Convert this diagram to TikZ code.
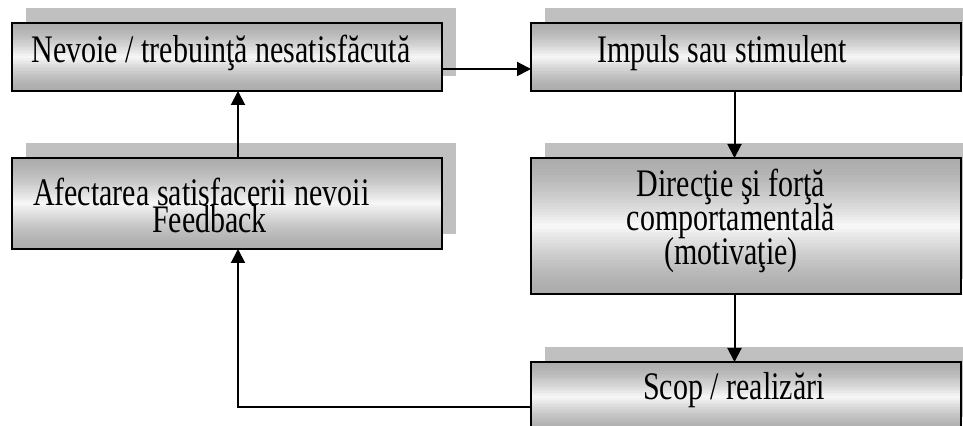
\documentclass[tikz,border=0pt]{standalone}
\usepackage{fontspec}
\setmainfont{Liberation Serif}
\usetikzlibrary{arrows.meta,backgrounds,calc}
\definecolor{shadowgray}{RGB}{192,192,192}
\definecolor{boxedge}{RGB}{172,172,172}
\definecolor{boxmid}{RGB}{248,248,248}
\newcommand{\vstr}[1]{\scalebox{1}[1.3]{#1}}
\newcommand{\tightlines}{\lineskiplimit=-50pt\relax}
\begin{document}
\begin{tikzpicture}[x=0.5pt,y=-0.5pt,
  box/.style={draw=black, line width=1.35pt, inner sep=0pt, outer sep=0pt,
    minimum width=215pt,
    path picture={
      \foreach \i in {0,...,47}{
        \pgfmathsetmacro{\pct}{100*(1-abs(2*(\i+0.5)/48-1))^1.5}
        \fill[boxmid!\pct!boxedge]
          ($(path picture bounding box.north west)!\i/48!(path picture bounding box.south west)$)
          rectangle
          ($(path picture bounding box.north east)!{(\i+1.4)/48}!(path picture bounding box.south east)$);
      }}},
  shadowbox/.style={fill=shadowgray, draw=none},
  txt/.style={inner sep=0pt, outer sep=0pt, font={\fontsize{15pt}{17pt}\selectfont\tightlines}},
  arr/.style={line width=1pt, -{Triangle[length=7pt,width=7pt]}}]
\useasboundingbox (0,0) rectangle (963,426);
% boxes
\node[box, minimum height=34pt] (B1) at (227,57) {};
\node[box, minimum height=34pt] (B2) at (746,57) {};
\node[box, minimum height=45.5pt] (B3) at (227,203.5) {};
\node[box, minimum height=68pt] (B4) at (746,226) {};
\node[box, minimum height=35pt] (B5) at (746,397) {};
% shadows
\begin{scope}[on background layer]
\foreach \b in {B1,B2,B3,B4,B5}
  \fill[shadowbox] ([shift={(7pt,7.5pt)}]\b.south west) rectangle ([shift={(7pt,7.5pt)}]\b.north east);
\end{scope}
% texts
\node[txt, anchor=base] (T1) at (221,63) {\vstr{Nevoie / trebuinţă nesatisfăcută}};
\node[txt, anchor=base] (T2) at (722,63) {\vstr{Impuls sau stimulent}};
\node[txt, anchor=base west, align=left, font={\fontsize{15pt}{13.8pt}\selectfont\tightlines}] (T3) at (33,233)
  {\vstr{Afectarea satisfacerii nevoii}\\\hspace*{59.5pt}\vstr{Feedback}};
\node[txt, anchor=base, align=center] (T4) at (731,265)
  {\vstr{Direcţie şi forţă}\\\vstr{comportamentală}\\\vstr{(motivaţie)}};
\node[txt, anchor=base] (T5) at (734,400) {\vstr{Scop / realizări}};
% connectors
\draw[arr] ([yshift=-6pt]B1.east) -- ([yshift=-6pt]B2.west);
\draw[arr] ([xshift=-5.75pt]B2.south) -- ([xshift=-5.75pt]B4.north);
\draw[arr] ([xshift=-5.75pt]B4.south) -- ([xshift=-5.75pt]B5.north);
\draw[arr] ([xshift=5.5pt]B3.north) -- ([xshift=5.5pt]B1.south);
\draw[arr] ([yshift=-5pt]B5.west) -| ([xshift=5.5pt]B3.south);
\end{tikzpicture}
\end{document}
